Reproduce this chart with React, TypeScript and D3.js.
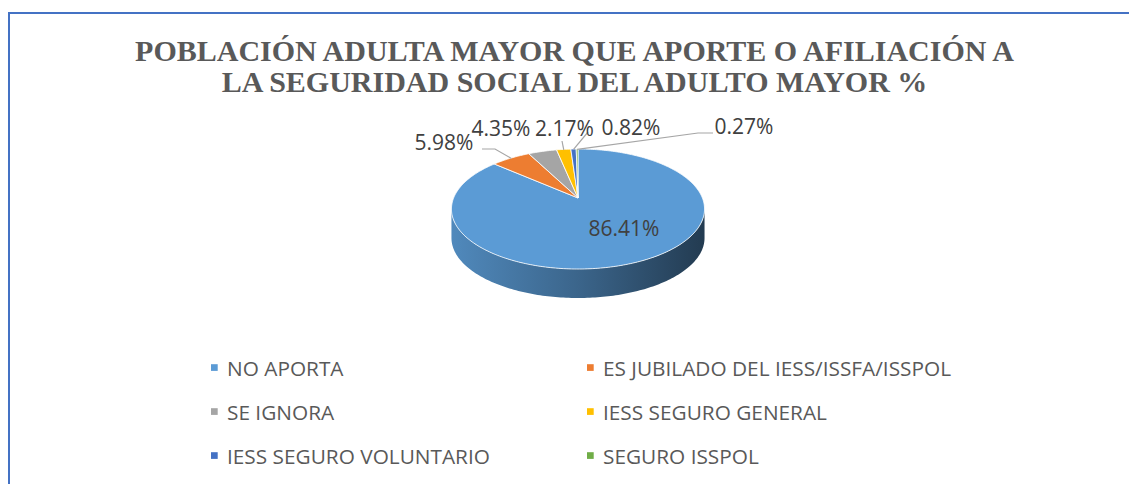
import React from "react";
import * as d3 from "d3";

const categories = [
  "NO APORTA",
  "ES JUBILADO DEL IESS/ISSFA/ISSPOL",
  "SE IGNORA",
  "IESS SEGURO GENERAL",
  "IESS SEGURO VOLUNTARIO",
  "SEGURO ISSPOL",
];
const values = [86.41, 5.98, 4.35, 2.17, 0.82, 0.27];
const colors = ["#5b9bd5", "#ed7d31", "#a5a5a5", "#ffc000", "#4472c4", "#70ad47"];
const titleLines = [
  "POBLACIÓN ADULTA MAYOR QUE APORTE O AFILIACIÓN A",
  "LA SEGURIDAD SOCIAL DEL ADULTO MAYOR %",
];

// layout (not data)
const W = 1129;
const H = 484;
const CX = 578;
const CY = 198;
const AX = 124.4;
const AY = 58;
const PERSP = -0.1833;
const DEPTH = 29;

type LabelLayout = { x: number; y: number; size: number; leader: [number, number][] | null };
const labelLayout: LabelLayout[] = [
  { x: 624, y: 236, size: 21, leader: null },
  { x: 444, y: 150, size: 21, leader: [[482, 149], [495, 149]] },
  { x: 501, y: 136, size: 21, leader: null },
  { x: 564.5, y: 136, size: 21, leader: [[562, 141]] },
  { x: 631, y: 135, size: 21, leader: [[588, 132]] },
  { x: 744, y: 134, size: 21, leader: [[713, 133], [698, 133]] },
];
const legendCols = [211, 587];
const legendRows = [375.5, 419.5, 463.5];

function project(theta: number, r = 1): [number, number] {
  const u = r * Math.sin(theta);
  const v = -r * Math.cos(theta);
  const d = 1 + PERSP * v;
  return [CX + (AX * u) / d, CY + (AY * v) / d];
}

function arcPoints(a: number, b: number): [number, number][] {
  const n = Math.max(2, Math.ceil(((b - a) * 180) / Math.PI));
  return d3.range(n + 1).map((i) => project(a + ((b - a) * i) / n));
}

const lineGen = d3.line<[number, number]>();

export default function App() {
  const pie = d3.pie<number>().sort(null).startAngle(0).endAngle(2 * Math.PI);
  const arcs = pie(values);
  const fmt = (v: number) => v.toFixed(2) + "%";

  const samples = d3.range(0, 2 * Math.PI, 0.002);
  const right = samples.filter((t) => t < Math.PI).reduce((m, t) => (project(t)[0] > project(m)[0] ? t : m), 0);
  const left = samples.filter((t) => t > Math.PI).reduce((m, t) => (project(t)[0] < project(m)[0] ? t : m), Math.PI);

  const xl = project(left)[0];
  const xr = project(right)[0];

  const sides = arcs
    .map((a, i) => {
      const s = Math.max(a.startAngle, right);
      const e = Math.min(a.endAngle, left);
      if (e <= s) return null;
      const top = arcPoints(s, e);
      const bottom = top.map(([x, y]) => [x, y + DEPTH] as [number, number]).reverse();
      return { i, d: lineGen([...top, ...bottom])! + "Z" };
    })
    .filter(Boolean) as { i: number; d: string }[];

  return (
    <svg
      width={W}
      height={H}
      style={{ position: "absolute", left: 0, top: 0, background: "#fff" }}
    >
      <defs>
        {colors.map((c, i) => (
          <linearGradient key={i} id={`side${i}`} gradientUnits="userSpaceOnUse" x1={xl} x2={xr} y1={0} y2={0}>
            <stop offset="0" stopColor={d3.color(c)!.darker(0.35).formatHex()} />
            <stop offset="0.5" stopColor={d3.color(c)!.darker(1.2).formatHex()} />
            <stop offset="1" stopColor={d3.color(c)!.darker(2.7).formatHex()} />
          </linearGradient>
        ))}
      </defs>
      <rect x={0} y={0} width={W} height={H} fill="#fff" />
      <path d={`M9,${H} V13 H${W}`} fill="none" stroke="#4472c4" strokeWidth={2} />

      {titleLines.map((t, i) => (
        <text
          key={i}
          x={574.5}
          y={61 + i * 31}
          textAnchor="middle"
          fontFamily="'Liberation Serif', 'Times New Roman', serif"
          fontWeight="bold"
          fontSize={30}
          fill="#595959"
        >
          {t}
        </text>
      ))}

      {sides.map((s) => (
        <path key={"s" + s.i} d={s.d} fill={`url(#side${s.i})`} />
      ))}

      {arcs.map((a, i) => {
        const pts = [[CX, CY] as [number, number], ...arcPoints(a.startAngle, a.endAngle)];
        return (
          <path
            key={"t" + i}
            d={lineGen(pts)! + "Z"}
            fill={colors[i]}
            stroke="#ffffff"
            strokeWidth={0.8}
            strokeLinejoin="round"
          />
        );
      })}

      {arcs.map((a, i) => {
        const L = labelLayout[i];
        if (!L.leader) return null;
        const mid = (a.startAngle + a.endAngle) / 2;
        const pts = [...L.leader, project(mid, 0.99)];
        return <path key={"l" + i} d={lineGen(pts)!} fill="none" stroke="#a6a6a6" strokeWidth={1.2} />;
      })}

      {arcs.map((a, i) => {
        const L = labelLayout[i];
        return (
          <text
            key={"lab" + i}
            x={L.x}
            y={L.y}
            textAnchor="middle"
            fontFamily="'Open Sans', sans-serif"
            fontSize={L.size}
            fill="#404040"
          >
            {fmt(a.data)}
          </text>
        );
      })}

      {categories.map((c, i) => {
        const x = legendCols[i % 2];
        const y = legendRows[Math.floor(i / 2)];
        return (
          <g key={"lg" + i}>
            <rect x={x} y={y - 11.3} width={6.7} height={6.7} fill={colors[i]} />
            <text x={x + 16} y={y} fontFamily="'Open Sans', sans-serif" fontSize={20.8} fill="#595959">
              {c}
            </text>
          </g>
        );
      })}
    </svg>
  );
}
